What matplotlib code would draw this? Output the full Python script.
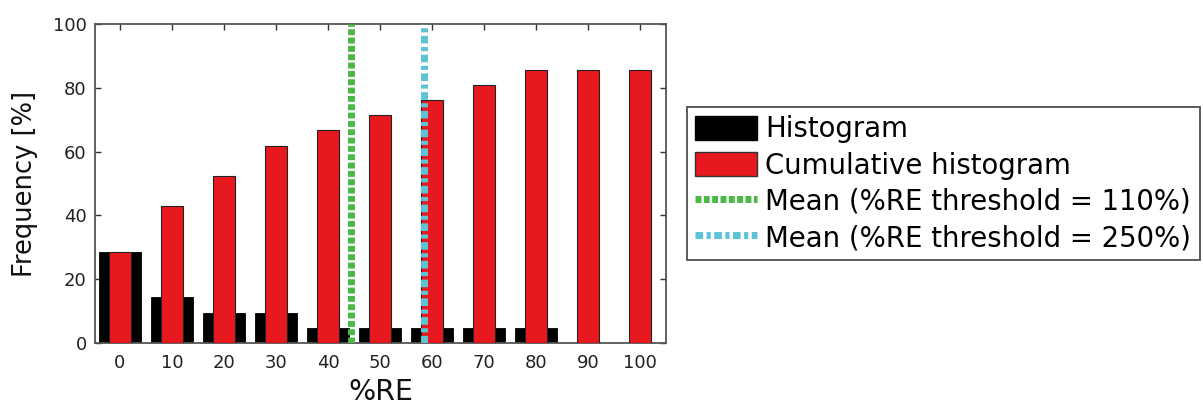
import matplotlib
matplotlib.use("Agg")
import matplotlib.pyplot as plt
from matplotlib.patches import Patch
from matplotlib.lines import Line2D

# %RE bins and frequencies (percent)
re_bins = [0, 10, 20, 30, 40, 50, 60, 70, 80, 90, 100]
hist_freq = [28.6, 14.3, 9.5, 9.5, 4.8, 4.8, 4.8, 4.8, 4.8, 0.0, 0.0]
cum_freq = [28.6, 42.9, 52.4, 61.9, 66.7, 71.4, 76.2, 81.0, 85.7, 85.7, 85.7]

# mean %RE for the two thresholds
mean_110 = 44.5
mean_250 = 58.5

xticks = [0, 10, 20, 30, 40, 50, 60, 70, 80, 90, 100]
yticks = [0, 20, 40, 60, 80, 100]

labels = ["Histogram", "Cumulative histogram",
          "Mean (%RE threshold = 110%)", "Mean (%RE threshold = 250%)"]

RED = "#e8191e"
GREEN = "#4cb848"
CYAN = "#5cc4d4"
SPINE = "#555555"

plt.rcParams["font.family"] = ["DejaVu Sans"]

fig = plt.figure(figsize=(12.03, 4.09), dpi=100)
ax = fig.add_axes([95 / 1203, 1 - 343 / 409, (666 - 95) / 1203, (343 - 24) / 409])

ax.bar(re_bins, hist_freq, width=8, color="black", edgecolor="black",
       linewidth=0.6, zorder=2)
ax.bar(re_bins, cum_freq, width=4.2, color=RED, edgecolor="#222222",
       linewidth=0.8, zorder=3)

green_ls = (0, (0.85, 0.35))
cyan_ls = (0, (1.1, 0.5, 0.6, 0.5))
ax.axvline(mean_110, color=GREEN, lw=5, linestyle=green_ls,
           dash_capstyle="butt", zorder=4)
ax.axvline(mean_250, color=CYAN, lw=5, linestyle=cyan_ls,
           dash_capstyle="butt", zorder=4)

ax.set_xlim(-4.8, 105)
ax.set_ylim(0, 100)
ax.set_xticks(xticks)
ax.set_yticks(yticks)

for s in ax.spines.values():
    s.set_color(SPINE)
    s.set_linewidth(1.3)

ax.tick_params(direction="in", length=4, width=1, color="#333333",
               top=True, right=True, labelsize=13, labelcolor="#222222")
ax.tick_params(axis="x", pad=8)
ax.tick_params(axis="y", pad=6)

ax.set_xlabel("%RE", fontsize=20.5, color="#111111", labelpad=4)
ax.set_ylabel("Frequency [%]", fontsize=18.5, color="#111111", labelpad=11)

handles = [
    Patch(facecolor="black", edgecolor="black"),
    Patch(facecolor=RED, edgecolor="#333333"),
    Line2D([0], [0], color=GREEN, lw=5, linestyle=green_ls, dash_capstyle="butt"),
    Line2D([0], [0], color=CYAN, lw=5, linestyle=cyan_ls, dash_capstyle="butt"),
]
leg = fig.legend(handles, labels, loc="upper left",
                 bbox_to_anchor=(687 / 1203, 1 - 107 / 409),
                 fontsize=19.8, frameon=True, fancybox=False,
                 handlelength=2.25, handleheight=1.0, handletextpad=0.3,
                 labelspacing=0.3, borderpad=0.3, borderaxespad=0)
leg.get_frame().set_edgecolor("#222222")
leg.get_frame().set_linewidth(1.3)

fig.savefig("out.png", dpi=100)
